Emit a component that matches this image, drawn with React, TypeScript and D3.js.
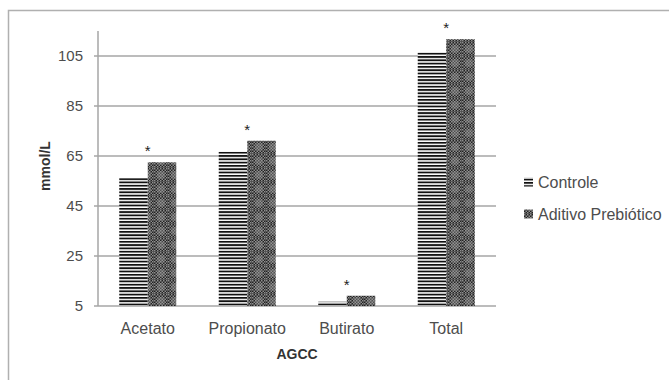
import React from "react";
import * as d3 from "d3";

// values (mmol/L)
const categories = ["Acetato", "Propionato", "Butirato", "Total"];
const seriesNames = ["Controle", "Aditivo Prebiótico"];
const controle = [56.1, 66.7, 6.7, 106.5];
const aditivo = [62.5, 71.1, 9.1, 111.7];
const marks = ["*", "*", "*", "*"];
const yTicks = [5, 25, 45, 65, 85, 105];
const yLabel = "mmol/L";
const xLabel = "AGCC";

const width = 669;
const height = 380;
const plot = { left: 98, right: 496, top: 31, bottom: 306 };
const font = "'Liberation Sans', Arial, sans-serif";
const fills = ["url(#hstripe)", "url(#chkdots)"];

function App() {
  const x = d3
    .scaleBand<string>()
    .domain(categories)
    .range([plot.left, plot.right])
    .paddingInner(0.427)
    .paddingOuter(0.2135);

  const xs = d3
    .scaleBand<string>()
    .domain(seriesNames)
    .range([0, x.bandwidth()]);

  const y = d3.scaleLinear().domain([5, 115]).range([plot.bottom, plot.top]);

  const series = [controle, aditivo];

  return (
    <svg
      width={width}
      height={height}
      style={{ position: "absolute", left: 0, top: 0, background: "#fff" }}
      fontFamily={font}
    >
      <defs>
        <pattern id="hstripe" patternUnits="userSpaceOnUse" width={4} height={3.3}>
          <rect width={4} height={3.3} fill="#fff" />
          <rect width={4} height={1.8} fill="#111" />
        </pattern>
        <pattern id="chk" patternUnits="userSpaceOnUse" width={3} height={3}>
          <rect width={3} height={3} fill="#222" />
          <rect width={1.5} height={1.5} fill="#8e8e8e" />
          <rect x={1.5} y={1.5} width={1.5} height={1.5} fill="#8e8e8e" />
        </pattern>
        <pattern id="chkdots" patternUnits="userSpaceOnUse" width={14} height={14}>
          <rect width={14} height={14} fill="url(#chk)" />
          <circle cx={7} cy={7} r={4} fill="#9a9a9a" opacity={0.4} />
        </pattern>
      </defs>

      {/* chart frame */}
      <rect x={8.5} y={10.5} width={700} height={400} fill="none" stroke="#b0b0b0" strokeWidth={1.5} />

      {/* gridlines + y ticks */}
      {yTicks.map((t) => (
        <g key={t}>
          <line x1={plot.left - 4} x2={plot.right} y1={y(t)} y2={y(t)} stroke="#a6a6a6" strokeWidth={1.5} />
          <text
            x={plot.left - 15}
            y={y(t)}
            dy="0.35em"
            textAnchor="end"
            fontSize={15}
            fill="#4d4d4d"
          >
            {t}
          </text>
        </g>
      ))}
      <line x1={plot.left} x2={plot.left} y1={plot.top} y2={plot.bottom} stroke="#a6a6a6" strokeWidth={1.5} />

      {/* bars */}
      {categories.map((c, i) => (
        <g key={c}>
          {series.map((s, j) => (
            <rect
              key={j}
              x={(x(c) as number) + (xs(seriesNames[j]) as number)}
              y={y(s[i])}
              width={xs.bandwidth()}
              height={y(5) - y(s[i])}
              fill={fills[j]}
            />
          ))}
          <text
            x={(x(c) as number) + x.bandwidth() / 2}
            y={y(Math.max(controle[i], aditivo[i])) - 15 + 9}
            textAnchor="middle"
            fontSize={15}
            fill="#222"
          >
            {marks[i]}
          </text>
          <text
            x={(x(c) as number) + x.bandwidth() / 2}
            y={328}
            dy="0.35em"
            textAnchor="middle"
            fontSize={16}
            fill="#4d4d4d"
          >
            {c}
          </text>
        </g>
      ))}

      {/* axis titles */}
      <text
        x={(plot.left + plot.right) / 2}
        y={354.5}
        dy="0.35em"
        textAnchor="middle"
        fontSize={14}
        fontWeight="bold"
        fill="#333"
      >
        {xLabel}
      </text>
      <text
        transform={`translate(45, 166) rotate(-90)`}
        dy="0.35em"
        textAnchor="middle"
        fontSize={14}
        fontWeight="bold"
        fill="#333"
      >
        {yLabel}
      </text>

      {/* legend */}
      {seriesNames.map((name, j) => (
        <g key={name} transform={`translate(524, ${182 + j * 32})`}>
          <rect x={0} y={-4.5} width={9} height={9} fill={fills[j]} />
          <text x={14} y={0} dy="0.35em" fontSize={16} fill="#4d4d4d">
            {name}
          </text>
        </g>
      ))}
    </svg>
  );
}

export default App;
